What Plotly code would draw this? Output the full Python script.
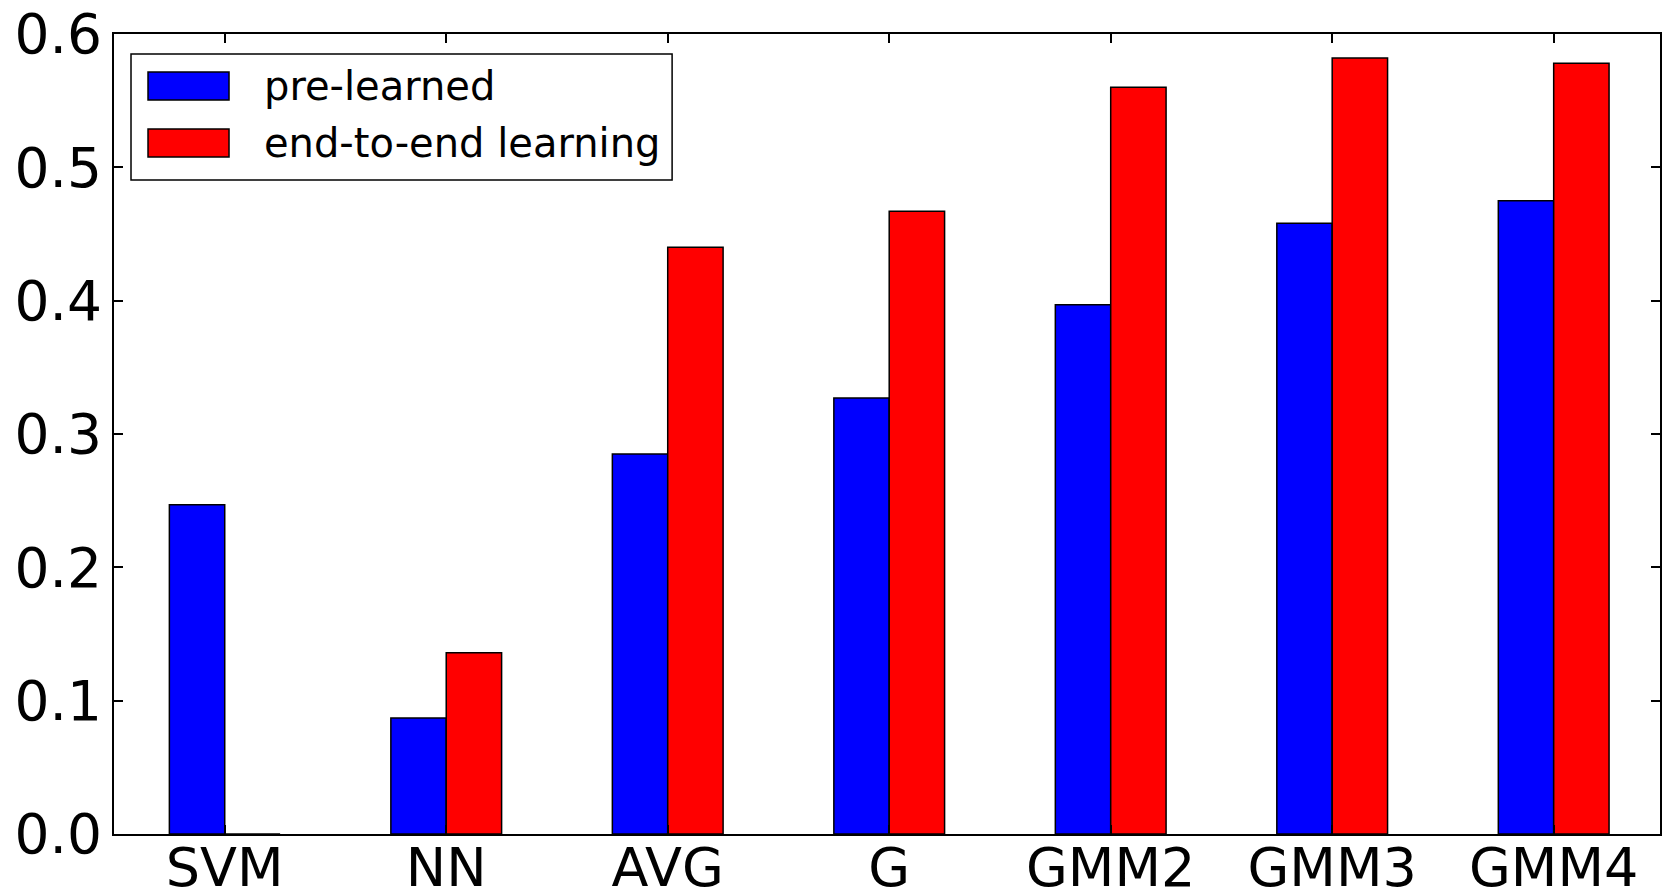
import plotly.graph_objects as go

categories = ["SVM", "NN", "AVG", "G", "GMM2", "GMM3", "GMM4"]
pre_learned = [0.247, 0.087, 0.285, 0.327, 0.397, 0.458, 0.475]
end_to_end = [0.0, 0.136, 0.440, 0.467, 0.560, 0.582, 0.578]
series_names = ["pre-learned", "end-to-end learning"]
series_colors = ["#0000ff", "#ff0000"]
y_ticks = [0.0, 0.1, 0.2, 0.3, 0.4, 0.5, 0.6]

FONT = "DejaVu Sans"

fig = go.Figure()
for name, vals, col in zip(series_names, [pre_learned, end_to_end], series_colors):
    fig.add_trace(go.Bar(
        x=categories, y=vals, name=name,
        marker=dict(color=col, line=dict(color="black", width=1.5)),
        showlegend=False,
    ))

# custom matplotlib-style legend
fig.add_shape(type="rect", xref="paper", yref="paper",
              x0=0.011, x1=0.361, y0=0.8175, y1=0.975,
              line=dict(color="black", width=1.5), fillcolor="white", layer="above")
patch_y = [(0.9175, 0.9525), (0.84625, 0.88125)]
text_y = [0.935, 0.864]
for (y0, y1), ty, name, col in zip(patch_y, text_y, series_names, series_colors):
    fig.add_shape(type="rect", xref="paper", yref="paper",
                  x0=0.022, x1=0.0744, y0=y0, y1=y1,
                  line=dict(color="black", width=1.5), fillcolor=col, layer="above")
    fig.add_annotation(xref="paper", yref="paper", x=0.0957, y=ty,
                       text=name, showarrow=False, xanchor="left", yanchor="middle",
                       font=dict(family=FONT, size=40, color="black"))

fig.update_layout(
    width=1662, height=894,
    margin=dict(l=114, r=2, t=34, b=60, autoexpand=False),
    paper_bgcolor="white", plot_bgcolor="white",
    barmode="group", bargap=0.5, bargroupgap=0,
    font=dict(family=FONT, size=54, color="black"),
)
fig.update_xaxes(
    type="category", range=[-0.5, 6.48], automargin=False,
    showline=True, linecolor="black", linewidth=2, mirror="ticks",
    ticks="inside", ticklen=9, tickwidth=1.5, tickcolor="black",
    showgrid=False, zeroline=False, ticklabelstandoff=-15,
    tickfont=dict(family=FONT, size=54, color="black"),
)
fig.update_yaxes(
    range=[0, 0.6], tickvals=y_ticks, ticktext=[f"{v:.1f}" for v in y_ticks],
    automargin=False,
    showline=True, linecolor="black", linewidth=2, mirror="ticks",
    ticks="inside", ticklen=9, tickwidth=1.5, tickcolor="black",
    showgrid=False, zeroline=False, ticklabelstandoff=-1,
    tickfont=dict(family=FONT, size=55, color="black"),
)

fig.write_html(
    "out.html",
    config={"displayModeBar": False},
    post_script="document.body.style.margin='0';document.body.style.overflow='hidden';",
)
